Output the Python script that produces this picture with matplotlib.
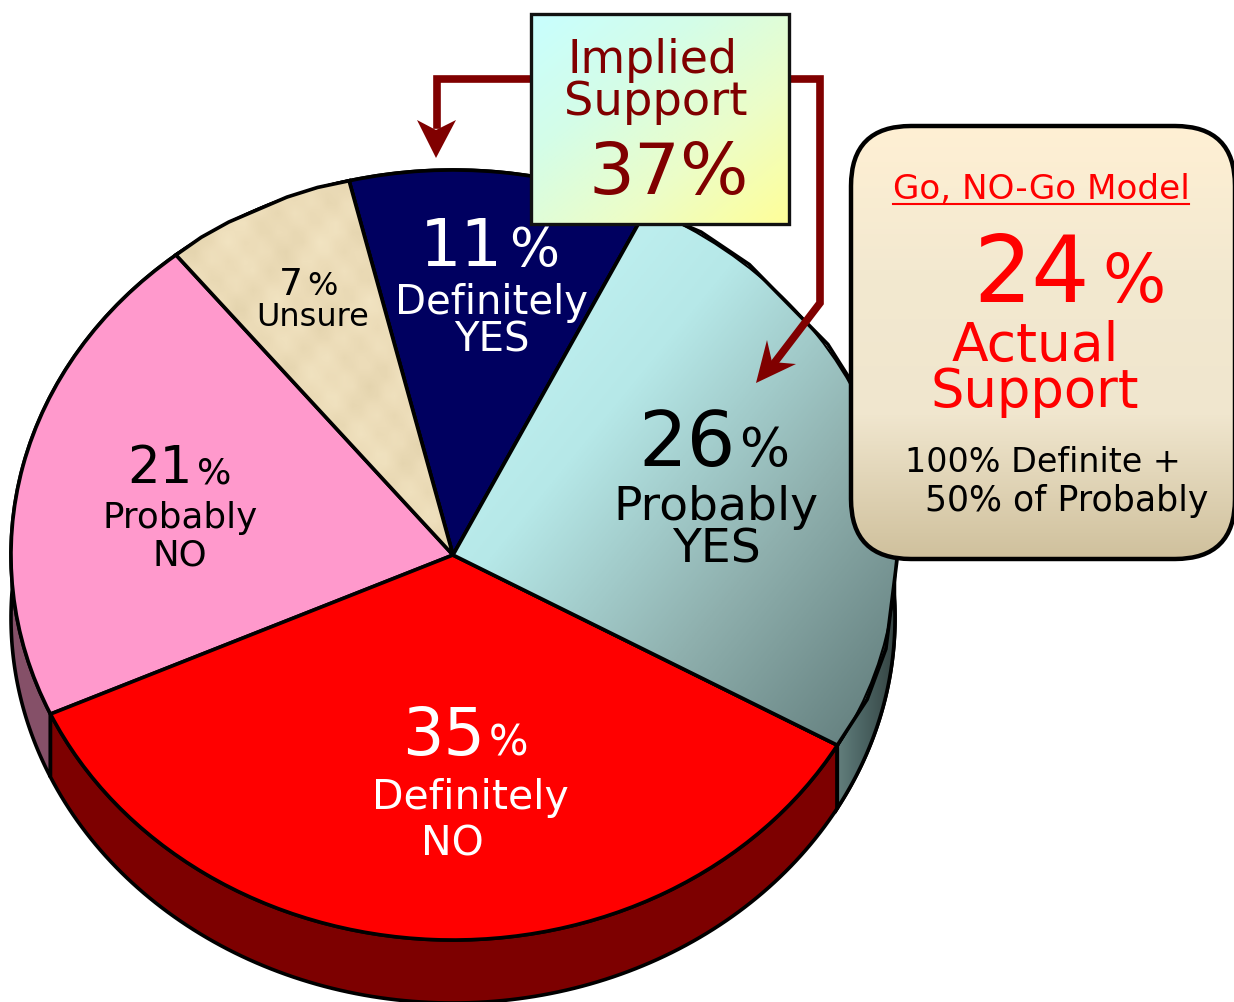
import numpy as np
import matplotlib
matplotlib.use("Agg")
import matplotlib.pyplot as plt
from matplotlib.colors import LinearSegmentedColormap
from matplotlib.patches import FancyBboxPatch, Polygon, Rectangle

# ---- data ----
categories = ["Definitely YES", "Unsure", "Probably NO", "Definitely NO", "Probably YES"]
values = [11, 7, 21, 35, 26]
top_colors = ["#000060", "#ecdcb8", "#ff99cc", "#ff0000", "#b8eeee"]
side_colors = ["#000030", "#8a7a5a", "#855068", "#7d0000", "#4f6968"]
start_angle = 64

W, H = 1234, 1002
CX, CY, RX, RY = 453, 555, 442, 385
DEPTH = 63 / RY

plt.rcParams["font.family"] = ["DejaVu Sans"]
fig = plt.figure(figsize=(W / 100, H / 100), dpi=100, facecolor="white")

# pie axes: unit circle is mapped on to the projected ellipse
ax = fig.add_axes([0, 0, 1, 1])
xlim = ((0 - CX) / RX, (W - CX) / RX)
ylim = ((CY - H) / RY, CY / RY)

# side wall
cum = start_angle + np.cumsum([0] + values) * 3.6
for i in range(len(values)):
    t = np.radians(np.linspace(cum[i], cum[i + 1], 120))
    x, y = np.cos(t), np.sin(t)
    verts = np.column_stack([np.r_[x, x[::-1]], np.r_[y, y[::-1] - DEPTH]])
    ax.add_patch(Polygon(verts, closed=True, fc=side_colors[i], ec="black", lw=2.6, zorder=1))
wedges, _ = ax.pie(values, startangle=start_angle, counterclock=True, colors=top_colors,
                   radius=1.0, wedgeprops=dict(edgecolor="black", linewidth=2.6, zorder=3))
ax.set_aspect("auto")

# shade on the Probably YES wedge and its side wall
blue_cmap = LinearSegmentedColormap.from_list(
    "b", [(0, "#c8f8f8"), (0.35, "#b6e8e8"), (0.65, "#8fb0ae"), (1, "#5a7473")])
gx, gy = np.meshgrid(np.linspace(0, 1, 300), np.linspace(0, 1, 300))
img = ax.imshow((gx + gy) / 2, cmap=blue_cmap, vmin=0, vmax=1,
                extent=(0.0, 1.02, -0.55, 0.88), aspect="auto", zorder=3.1, origin="upper")
img.set_clip_path(wedges[4])
t = np.radians(np.linspace(cum[4], 360 + start_angle, 200))
t = t[np.sin(t) < 0.05]
xs, ys = np.cos(t), np.sin(t)
side = Polygon(np.column_stack([np.r_[xs, xs[::-1]], np.r_[ys, ys[::-1] - DEPTH]]), closed=True,
               fc="none", ec="none", transform=ax.transData)
ax.add_patch(side)
side_cmap = LinearSegmentedColormap.from_list("s", ["#6f8c8a", "#4c6564", "#33403f"])
sg = np.linspace(0, 1, 100)[None, :]
img2 = ax.imshow(sg, cmap=side_cmap, extent=(0.84, 1.01, -0.75, 0.05), aspect="auto", zorder=2)
img2.set_clip_path(side)
# redraw outlines of the shaded wedge and side wall
ax.add_patch(Polygon(wedges[4].get_path().vertices, closed=True, fc="none", ec="black", lw=2.6,
                     transform=wedges[4].get_transform(), zorder=3.2))
ax.add_patch(Polygon(side.get_xy(), closed=True, fc="none", ec="black", lw=2.6, zorder=2.1))

# mottled paper texture on the Unsure wedge
tx, ty = np.meshgrid(np.linspace(0, 1, 40), np.linspace(0, 1, 40))
tex = (np.sin(tx * 23) * np.cos(ty * 17) + np.sin((tx + ty) * 41) * 0.6 + np.cos((tx - ty) * 67) * 0.5)
paper = LinearSegmentedColormap.from_list("p", ["#e4d4ae", "#ecdcb8", "#f2e4c2"])
img3 = ax.imshow(tex, cmap=paper, extent=(-0.65, 0.1, 0.0, 1.0), aspect="auto", zorder=3.1,
                 interpolation="bilinear")
img3.set_clip_path(wedges[1])
ax.add_patch(Polygon(wedges[1].get_path().vertices, closed=True, fc="none", ec="black", lw=2.6,
                     transform=wedges[1].get_transform(), zorder=3.2))
ax.set_xlim(*xlim)
ax.set_ylim(*ylim)
ax.axis("off")

# overlay in pixel coordinates
ov = fig.add_axes([0, 0, 1, 1], facecolor="none")
ov.set_xlim(0, W)
ov.set_ylim(H, 0)
ov.axis("off")

def txt(x, y, s, size, color="black", **kw):
    ov.text(x, y, s, fontsize=size, color=color, ha=kw.pop("ha", "center"), va="center", zorder=10, **kw)

def pct(x, y, num, big, small, color, gap=4):
    """number in a large size followed by a smaller percent sign"""
    ov.text(x, y, num, fontsize=big, color=color, ha="right", va="baseline", zorder=10)
    ov.text(x + gap, y, "%", fontsize=small, color=color, ha="left", va="baseline", zorder=10)

# slice labels
pct(503, 266, "11", 47, 38, "white", 6)
txt(492, 303, "Definitely", 29, "white")
txt(492, 340, "YES", 29, "white")
pct(303, 295, "7", 27, 23, "black")
txt(313, 318, "Unsure", 23, "black")
pct(193, 483, "21", 37, 26, "black")
txt(180, 518, "Probably", 25.7, "black")
txt(180, 555, "NO", 25.7, "black")
pct(736, 466, "26", 55, 38, "black", 3)
txt(716, 507, "Probably", 34, "black")
txt(716, 550, "YES", 34, "black")
pct(485, 755, "35", 47, 30, "white")
txt(470, 798, "Definitely", 29.5, "white")
txt(452, 844, "NO", 29.5, "white")

# connector arrows
DR = "#800000"
ov.plot([530, 437, 437], [79, 79, 125], color=DR, lw=5.5, solid_joinstyle="miter", zorder=5)
ov.add_patch(Polygon([(436, 158), (417, 120), (436, 130), (456, 120)], closed=True, fc=DR, ec="none", zorder=5))
ov.plot([790, 820, 820, 775], [79, 79, 303, 362], color=DR, lw=5.5, solid_joinstyle="miter", zorder=5)
ov.add_patch(Polygon([(756, 383), (767, 340), (772, 362), (796, 364)], closed=True, fc=DR, ec="none", zorder=5))

# Implied support box
yg = LinearSegmentedColormap.from_list("y", ["#c8ffff", "#d4fde8", "#ecfdc8", "#ffff99"])
gx, gy = np.meshgrid(np.linspace(0, 1, 200), np.linspace(0, 1, 200))
box = Rectangle((531, 14), 258, 210, fc="none", ec="none")
ov.add_patch(box)
im = ov.imshow((gx + gy) / 2, cmap=yg, extent=(531, 789, 224, 14), aspect="auto", zorder=6)
im.set_clip_path(box)
ov.add_patch(Rectangle((531, 14), 258, 210, fc="none", ec="#111111", lw=2.4, zorder=7))
txt(652, 60, "Implied", 33, DR)
txt(656, 102, "Support", 33.4, DR)
txt(669, 174, "37%", 52, DR)

# Actual support box
cream = LinearSegmentedColormap.from_list("c", ["#fff0d4", "#f3e9d0", "#f0e6ce", "#cfc09c"])
rbox = FancyBboxPatch((900, 175), 286, 335, boxstyle="round,pad=49,rounding_size=60", fc="none", ec="none")
ov.add_patch(rbox)
im2 = ov.imshow(np.linspace(0, 1, 256)[:, None], cmap=cream, extent=(851, 1236, 560, 125), aspect="auto", zorder=6)
im2.set_clip_path(rbox)
rb2 = FancyBboxPatch((900, 175), 286, 335, boxstyle="round,pad=49,rounding_size=60", fc="none", ec="black", lw=3.2, zorder=7)
ov.add_patch(rb2)
ov.set_xlim(0, W)
ov.set_ylim(H, 0)
RED = "#ff0000"
txt(1041, 189, "Go, NO-Go Model", 24.6, RED)
ov.plot([893, 1189], [204, 204], color=RED, lw=1.5, zorder=10)
pct(1090, 302, "24", 66, 48, RED, 12)
txt(1035, 346, "Actual", 38.5, RED)
txt(1035, 392, "Support", 38, RED)
txt(905, 463, "100% Definite +", 24, "black", ha="left")
txt(925, 501, "50% of Probably", 25, "black", ha="left")

fig.savefig("out.png", dpi=100, facecolor="white")
